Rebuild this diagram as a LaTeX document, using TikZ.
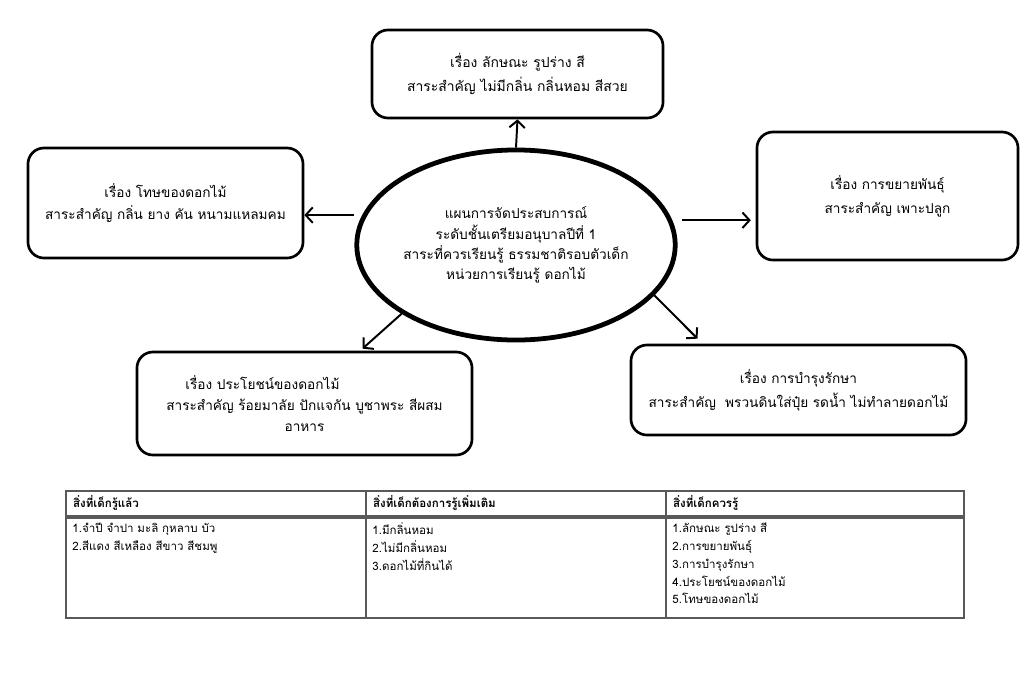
\documentclass[tikz,border=0pt]{standalone}
\usepackage{fontspec}
\setmainfont[Script=Thai]{Loma}
\usepackage{xcolor}
\usepackage{tikz}
\usetikzlibrary{positioning, arrows.meta, calc, shapes.geometric}

\begin{document}
\begin{tikzpicture}[
        x=0.025cm, y=-0.025cm,
        topic/.style={
          draw,
          line width=1.9pt,
          rounded corners=0.4cm,
          align=center,
          font=\fontsize{9.7}{15}\selectfont
        },
        plan/.style={
          draw,
          ellipse,
          inner sep=0pt,
          line width=3.4pt,
          minimum width=7.95cm,
          minimum height=4.75cm,
          align=center,
          font=\fontsize{9.7}{14.5}\selectfont
        },
        link/.style={line width=1.4pt, -{Straight Barb[length=5pt, width=11pt]}},
        cell/.style={
          draw=gray!70!black,
          line width=1.3pt,
          minimum height=2.5cm,
          anchor=north west
        },
        headcell/.style={
          cell,
          minimum height=0.625cm,
          align=left,
          inner xsep=0.18cm,
          font=\fontsize{8.2}{11}\selectfont\bfseries
        },
        celltext/.style={
          anchor=north west,
          align=left,
          inner xsep=0.18cm,
          inner ysep=0.15cm,
          font=\fontsize{8.2}{12.6}\selectfont
        }
      ]
        \useasboundingbox (0,0) rectangle (1024,698);

        % centre
        \node[plan] (centre) at (516,245) {แผนการจัดประสบการณ์\\ระดับชั้นเตรียมอนุบาลปีที่ 1\\สาระที่ควรเรียนรู้ ธรรมชาติรอบตัวเด็ก\\หน่วยการเรียนรู้ ดอกไม้};

        % topics
        \node[topic, minimum width=7.275cm, minimum height=2.2cm, font=\fontsize{9.9}{17.5}\selectfont] (shape) at (517.5,74) {เรื่อง ลักษณะ รูปร่าง สี\\สาระสำคัญ ไม่มีกลิ่น กลิ่นหอม สีสวย};
        \node[topic, minimum width=6.875cm, minimum height=2.75cm] (harm) at (165.5,203) {เรื่อง โทษของดอกไม้\\สาระสำคัญ กลิ่น ยาง คัน หนามแหลมคม};
        \node[topic, minimum width=6.525cm, minimum height=3.2cm, font=\fontsize{9.7}{17}\selectfont] (grow) at (887.5,196) {เรื่อง การขยายพันธุ์\\สาระสำคัญ เพาะปลูก};
        \node[topic, minimum width=8.375cm, minimum height=2.575cm] (use) at (304.5,403.5) {เรื่อง ประโยชน์ของดอกไม้\hspace*{2.1cm}\\สาระสำคัญ ร้อยมาลัย ปักแจกัน บูชาพระ สีผสม\\อาหาร};
        \node[topic, minimum width=8.375cm, minimum height=2.25cm, font=\fontsize{9.7}{17}\selectfont] (care) at (798.5,390) {เรื่อง การบำรุงรักษา\\สาระสำคัญ~ พรวนดินใส่ปุ๋ย รดน้ำ ไม่ทำลายดอกไม้};

        \draw[link] (centre.north) -- (shape.south);
        \draw[link, shorten <=0.2cm] (centre.169) -- (harm.east |- centre.169);
        \draw[link, shorten <=0.25cm, shorten >=0.12cm] (centre.9) -- (grow.west |- centre.9);
        \draw[link] (centre.211) -- ($(use.north)+(58,-2)$);
        \draw[link] (centre.340) -- ($(care.north)+(-101,-5)$);

        % table
        \node[headcell, minimum width=7.5cm, text width=7.14cm] (knowhead) at (65,490) {สิ่งที่เด็กรู้แล้ว};
        \node[headcell, minimum width=7.5cm, text width=7.14cm] (wanthead) at (365,490) {สิ่งที่เด็กต้องการรู้เพิ่มเติม};
        \node[headcell, minimum width=7.45cm, text width=7.09cm] (needhead) at (665,490) {สิ่งที่เด็กควรรู้};
        \node[cell, minimum width=7.5cm] (knowcell) at (knowhead.south west) {};
        \node[cell, minimum width=7.5cm] (wantcell) at (wanthead.south west) {};
        \node[cell, minimum width=7.45cm] (needcell) at (needhead.south west) {};

        \node[celltext] (knowtext) at (knowcell.north west) {1.จำปี จำปา มะลิ กุหลาบ บัว\\2.สีแดง สีเหลือง สีขาว สีชมพู};
        \node[celltext] (wanttext) at (wantcell.north west) {1.มีกลิ่นหอม\\2.ไม่มีกลิ่นหอม\\3.ดอกไม้ที่กินได้};
        \node[celltext] (needtext) at (needcell.north west) {1.ลักษณะ รูปร่าง สี\\2.การขยายพันธุ์\\3.การบำรุงรักษา\\4.ประโยชน์ของดอกไม้\\5.โทษของดอกไม้};
      \end{tikzpicture}
\end{document}
